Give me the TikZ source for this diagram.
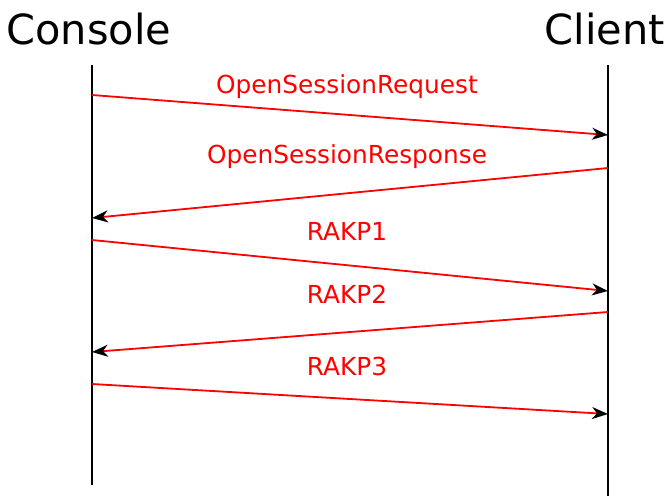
\documentclass[tikz,border=0pt]{standalone}
\usepackage{fontspec}
\setmainfont{DejaVu Sans}
\usetikzlibrary{arrows.meta}
\begin{document}
\begin{tikzpicture}[x=1pt,y=-1pt,
  life/.style={draw=black,line width=2pt},
  msg/.style={draw=red,line width=1.8pt,-{Stealth[black,length=16pt,width=12pt,inset=5pt]}},
  lbl/.style={text=red,font=\fontsize{24.8}{28}\selectfont,inner sep=0pt},
  head/.style={font=\fontsize{41.5}{48}\selectfont,inner sep=0pt}]
\useasboundingbox (0,0) rectangle (669,496);
\node[head,anchor=base] (con) at (89,44) {Console};
\node[head,anchor=base] (cli) at (605,44) {Client};
\coordinate (ct) at (92,65); \coordinate (cb) at (92,485);
\coordinate (lt) at (608,65); \coordinate (lb) at (608,496);
\draw[life] (ct) -- (cb);
\draw[life] (lt) -- (lb);
\coordinate (a1) at (92,95); \coordinate (b1) at (608,135);
\coordinate (a2) at (608,168); \coordinate (b2) at (92,218);
\coordinate (a3) at (92,240); \coordinate (b3) at (608,291);
\coordinate (a4) at (608,312); \coordinate (b4) at (92,352);
\coordinate (a5) at (92,384); \coordinate (b5) at (608,414);
\draw[msg] (a1) -- (b1);
\draw[msg] (a2) -- (b2);
\draw[msg] (a3) -- (b3);
\draw[msg] (a4) -- (b4);
\draw[msg] (a5) -- (b5);
\node[lbl] (l1) at (347,87) {OpenSessionRequest};
\node[lbl] (l2) at (347,157) {OpenSessionResponse};
\node[lbl] (l3) at (347,231) {RAKP1};
\node[lbl] (l4) at (347,294) {RAKP2};
\node[lbl] (l5) at (347,366) {RAKP3};
\end{tikzpicture}
\end{document}
